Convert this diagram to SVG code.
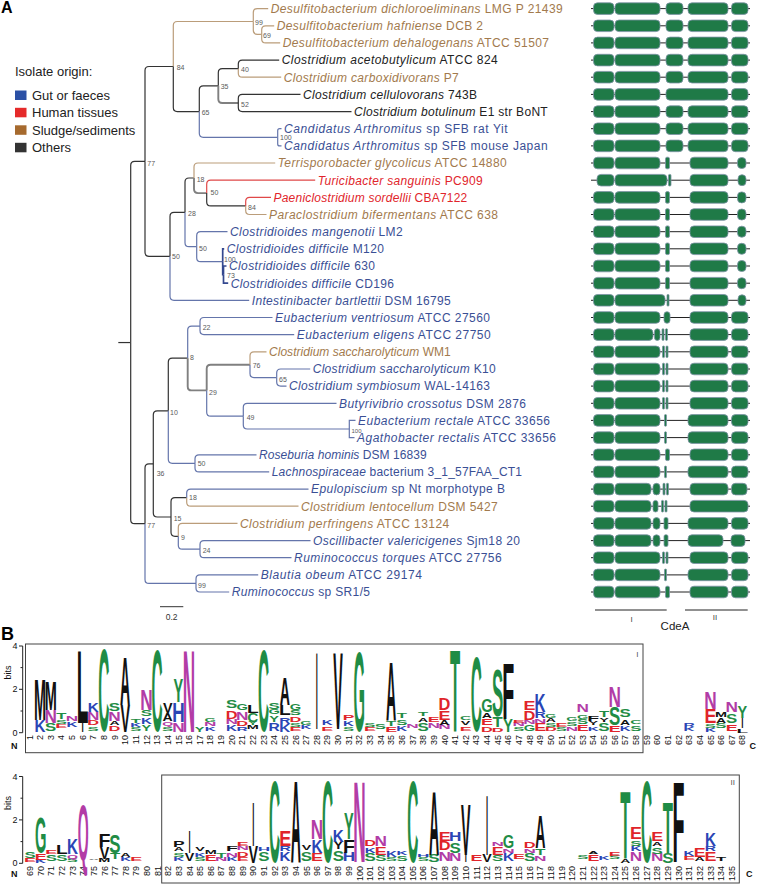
<svg xmlns="http://www.w3.org/2000/svg" xmlns:xlink="http://www.w3.org/1999/xlink" width="758" height="884" viewBox="0 0 758 884">
<style>
.tx{font-family:"Liberation Sans",Arial,sans-serif;font-size:12px}
.i{font-style:italic}
.cbl{fill:#3a4f95}.cbr{fill:#a27a4d}.crd{fill:#e1252b}.cbk{fill:#222}
.bs{font-family:"Liberation Sans",Arial,sans-serif;font-size:7px;fill:#5a5a5a}
.lg{font-family:"Liberation Sans",Arial,sans-serif;font-size:13px;fill:#222}
.hd{font-family:"Liberation Sans",Arial,sans-serif;font-size:16px;font-weight:bold;fill:#000}
#conn path{fill:none;stroke-width:1.2}
.k{stroke:#333}.b{stroke:#6475ab}.w{stroke:#bb9d7a}.r{stroke:#e04848}.g{stroke:#808080;stroke-width:1.9 !important}.db{stroke:#34488f;stroke-width:1.7 !important}
.d{fill:#1f7a47;stroke:#7d93a6;stroke-width:0.8}
.bb{stroke:#222;stroke-width:1}
.L{font-family:"Liberation Sans",Arial,sans-serif;font-weight:bold;font-size:10px;text-anchor:middle}
.G{fill:#1f8c45}.P{fill:#b23ca6}.B{fill:#2a45b5}.R{fill:#e0242a}.K{fill:#111}
.num{font-family:"Liberation Sans",Arial,sans-serif;font-size:9px;fill:#111;text-anchor:end}
.ax{font-family:"Liberation Sans",Arial,sans-serif;font-size:9px;fill:#111}
.axl{stroke:#222;stroke-width:1;fill:none}
</style>
<defs>
<g id="dP"><line class="bb" x1="591" y1="0" x2="750" y2="0"/><rect class="d" x="593.5" y="-5.8" width="20.5" height="11.6" rx="4"/><rect class="d" x="615" y="-5.8" width="45" height="11.6" rx="4"/><rect class="d" x="666" y="-5.8" width="17" height="11.6" rx="4"/><rect class="d" x="688" y="-5.8" width="40" height="11.6" rx="4"/><rect class="d" x="731.5" y="-5.8" width="16.5" height="11.6" rx="4"/></g>
<g id="d5"><line class="bb" x1="591" y1="0" x2="750" y2="0"/><rect class="d" x="593.5" y="-5.8" width="20.5" height="11.6" rx="4"/><rect class="d" x="615" y="-5.8" width="45" height="11.6" rx="4"/><rect class="d" x="666" y="-5.8" width="62" height="11.6" rx="4"/><rect class="d" x="731.5" y="-5.8" width="16.5" height="11.6" rx="4"/></g>
<g id="dQ"><line class="bb" x1="591" y1="0" x2="750" y2="0"/><rect class="d" x="593.5" y="-5.8" width="20.5" height="11.6" rx="4"/><rect class="d" x="615" y="-5.8" width="45" height="11.6" rx="4"/><rect class="d" x="665.5" y="-5.8" width="4" height="11.6" rx="1.5"/><rect class="d" x="690" y="-5.8" width="38" height="11.6" rx="4"/><rect class="d" x="737.5" y="-5.5" width="8.5" height="11" rx="4"/></g>
<g id="d10"><line class="bb" x1="591" y1="0" x2="750" y2="0"/><rect class="d" x="597" y="-5.8" width="17" height="11.6" rx="4"/><rect class="d" x="615" y="-5.8" width="52" height="11.6" rx="4"/><rect class="d" x="668.5" y="-5.8" width="2.5" height="11.6" rx="1"/><rect class="d" x="690" y="-5.8" width="38" height="11.6" rx="4"/><rect class="d" x="738" y="-5.5" width="8" height="11" rx="4"/></g>
<g id="d17"><line class="bb" x1="591" y1="0" x2="750" y2="0"/><rect class="d" x="593.5" y="-5.8" width="20.5" height="11.6" rx="4"/><rect class="d" x="615" y="-5.8" width="50" height="11.6" rx="4"/><rect class="d" x="667" y="-5.8" width="2" height="11.6" rx="0.8"/><rect class="d" x="690" y="-5.8" width="38" height="11.6" rx="4"/><rect class="d" x="738" y="-5.5" width="8" height="11" rx="4"/></g>
<g id="d18"><line class="bb" x1="591" y1="0" x2="750" y2="0"/><rect class="d" x="593.5" y="-5.8" width="20.5" height="11.6" rx="4"/><rect class="d" x="615" y="-5.8" width="45" height="11.6" rx="4"/><rect class="d" x="664" y="-5.8" width="6" height="11.6" rx="3"/><rect class="d" x="690" y="-5.8" width="38" height="11.6" rx="4"/><rect class="d" x="731.5" y="-5.8" width="16.5" height="11.6" rx="4"/></g>
<g id="d19"><line class="bb" x1="591" y1="0" x2="750" y2="0"/><rect class="d" x="593.5" y="-5.8" width="20.5" height="11.6" rx="4"/><rect class="d" x="615" y="-5.8" width="38" height="11.6" rx="4"/><rect class="d" x="654.5" y="-5.8" width="5.5" height="11.6" rx="2.7"/><rect class="d" x="662" y="-5.8" width="2" height="11.6" rx="0.8"/><rect class="d" x="665.5" y="-5.8" width="2" height="11.6" rx="0.8"/><rect class="d" x="690" y="-5.8" width="38" height="11.6" rx="4"/><rect class="d" x="731.5" y="-5.8" width="16.5" height="11.6" rx="4"/></g>
<g id="dT"><line class="bb" x1="591" y1="0" x2="750" y2="0"/><rect class="d" x="593.5" y="-5.8" width="20.5" height="11.6" rx="4"/><rect class="d" x="615" y="-5.8" width="45" height="11.6" rx="4"/><rect class="d" x="662.5" y="-5.8" width="2" height="11.6" rx="0.8"/><rect class="d" x="666" y="-5.8" width="2" height="11.6" rx="0.8"/><rect class="d" x="690" y="-5.8" width="38" height="11.6" rx="4"/><rect class="d" x="731.5" y="-5.8" width="16.5" height="11.6" rx="4"/></g>
<g id="dU"><line class="bb" x1="591" y1="0" x2="750" y2="0"/><rect class="d" x="593.5" y="-5.8" width="20.5" height="11.6" rx="4"/><rect class="d" x="615" y="-5.8" width="45" height="11.6" rx="4"/><rect class="d" x="664.5" y="-5.8" width="2" height="11.6" rx="0.8"/><rect class="d" x="688" y="-5.8" width="40" height="11.6" rx="4"/><rect class="d" x="731.5" y="-5.8" width="16.5" height="11.6" rx="4"/></g>
<g id="dV"><line class="bb" x1="591" y1="0" x2="750" y2="0"/><rect class="d" x="593.5" y="-5.8" width="20.5" height="11.6" rx="4"/><rect class="d" x="615" y="-5.8" width="45" height="11.6" rx="4"/><rect class="d" x="665.5" y="-5.8" width="4" height="11.6" rx="1.5"/><rect class="d" x="690" y="-5.8" width="38" height="11.6" rx="4"/><rect class="d" x="731.5" y="-5.8" width="16.5" height="11.6" rx="4"/></g>
<g id="d28"><line class="bb" x1="591" y1="0" x2="750" y2="0"/><rect class="d" x="593.5" y="-5.8" width="20.5" height="11.6" rx="4"/><rect class="d" x="615" y="-5.8" width="36" height="11.6" rx="4"/><rect class="d" x="653" y="-5.8" width="7" height="11.6" rx="3.5"/><rect class="d" x="663" y="-5.8" width="2" height="11.6" rx="0.8"/><rect class="d" x="666.5" y="-5.8" width="2" height="11.6" rx="0.8"/><rect class="d" x="690" y="-5.8" width="38" height="11.6" rx="4"/><rect class="d" x="731.5" y="-5.8" width="15.5" height="11.6" rx="4"/></g>
<g id="d29"><line class="bb" x1="591" y1="0" x2="750" y2="0"/><rect class="d" x="593.5" y="-5.8" width="20.5" height="11.6" rx="4"/><rect class="d" x="615" y="-5.8" width="36" height="11.6" rx="4"/><rect class="d" x="653" y="-5.8" width="5" height="11.6" rx="2.5"/><rect class="d" x="661.5" y="-5.8" width="2" height="11.6" rx="0.8"/><rect class="d" x="665" y="-5.8" width="2" height="11.6" rx="0.8"/><rect class="d" x="690" y="-5.8" width="58" height="11.6" rx="4"/></g>
<g id="d30"><line class="bb" x1="591" y1="0" x2="750" y2="0"/><rect class="d" x="593.5" y="-5.8" width="20.5" height="11.6" rx="4"/><rect class="d" x="615" y="-5.8" width="36" height="11.6" rx="4"/><rect class="d" x="653" y="-5.8" width="7" height="11.6" rx="3.5"/><rect class="d" x="664" y="-5.8" width="4" height="11.6" rx="1.5"/><rect class="d" x="688" y="-5.8" width="40" height="11.6" rx="4"/><rect class="d" x="731.5" y="-5.8" width="16.5" height="11.6" rx="4"/></g>
<g id="d31"><line class="bb" x1="591" y1="0" x2="750" y2="0"/><rect class="d" x="593.5" y="-5.8" width="20.5" height="11.6" rx="4"/><rect class="d" x="615" y="-5.8" width="36" height="11.6" rx="4"/><rect class="d" x="653" y="-5.8" width="7" height="11.6" rx="3.5"/><rect class="d" x="664" y="-5.8" width="4" height="11.6" rx="1.5"/><rect class="d" x="688" y="-5.8" width="35" height="11.6" rx="4"/><rect class="d" x="731" y="-5.8" width="14" height="11.6" rx="4"/></g>
</defs>
<rect width="758" height="884" fill="#fff"/>
<text class="hd" x="1" y="12.5">A</text>
<text class="hd" x="1" y="640" style="font-size:18px">B</text>

<g id="legend">
<text class="lg" x="15" y="76.4">Isolate origin:</text>
<rect x="15" y="90.5" width="11.5" height="9.5" fill="#2b50a5"/><text class="lg" x="32" y="99.8">Gut or faeces</text>
<rect x="15" y="107.8" width="11.5" height="9.5" fill="#e52a2a"/><text class="lg" x="32" y="117.1">Human tissues</text>
<rect x="15" y="125.3" width="11.5" height="9.5" fill="#a66a2e"/><text class="lg" x="32" y="134.6">Sludge/sediments</text>
<rect x="15" y="142.8" width="11.5" height="9.5" fill="#333"/><text class="lg" x="32" y="152.1">Others</text>
</g>

<g id="conn">
<path class="k" d="M118.3 342.55H130.7"/>
<path class="k" d="M130.7 342.55V165.4Q130.7 161.4 134.7 161.4H145"/>
<path class="k" d="M130.7 342.55V519.7Q130.7 523.7 134.7 523.7H145"/>
<path class="k" d="M145 161.4V70.5Q145 66.5 149 66.5H173.3"/>
<path class="k" d="M145 161.4V252.3Q145 256.3 149 256.3H170"/>
<path class="w" d="M173.3 66.5V25.5Q173.3 21.5 177.3 21.5H253.3"/>
<path class="k" d="M173.3 66.5V107.55Q173.3 111.55 177.3 111.55H199.3"/>
<path class="w" d="M253.3 21.5V12.6Q253.3 8.6 257.3 8.6H268.2"/>
<path class="w" d="M253.3 21.5V30.35Q253.3 34.35 257.3 34.35H261.7"/>
<path class="w" d="M261.7 34.35V29.8Q261.7 25.8 265.7 25.8H274.2"/>
<path class="w" d="M261.7 34.35V38.9Q261.7 42.9 265.7 42.9H280.2"/>
<path class="k" d="M199.3 111.55V89.8Q199.3 85.8 203.3 85.8H218.3"/>
<path class="b" d="M199.3 111.55V133.3Q199.3 137.3 203.3 137.3H277.7"/>
<path class="k" d="M218.3 85.8V72.65Q218.3 68.65 222.3 68.65H238.3"/>
<path class="g" d="M218.3 85.8V99Q218.3 103 222.3 103H238.3"/>
<path class="k" d="M238.3 68.65V64.1Q238.3 60.1 242.3 60.1H279.2"/>
<path class="w" d="M238.3 68.65V73.2Q238.3 77.2 242.3 77.2H281.2"/>
<path class="k" d="M238.3 103V98.4Q238.3 94.4 242.3 94.4H300.5"/>
<path class="k" d="M238.3 103V107.6Q238.3 111.6 242.3 111.6H351.5"/>
<path class="b" d="M277.7 137.3V130.7Q277.7 128.7 279.7 128.7H281.5"/>
<path class="b" d="M277.7 137.3V143.9Q277.7 145.9 279.7 145.9H281.5"/>
<path class="k" d="M170 256.3V216.4Q170 212.4 174 212.4H185"/>
<path class="b" d="M170 256.3V296.3Q170 300.3 174 300.3H249.2"/>
<path class="k" d="M185 212.4V182Q185 178 189 178H194"/>
<path class="b" d="M185 212.4V242.7Q185 246.7 189 246.7H196.7"/>
<path class="w" d="M194 178V167Q194 163 198 163H275.2"/>
<path class="g" d="M194 178V189.1Q194 193.1 198 193.1H206.7"/>
<path class="r" d="M206.7 193.1V184.2Q206.7 180.2 210.7 180.2H315.2"/>
<path class="k" d="M206.7 193.1V201.95Q206.7 205.95 210.7 205.95H245.7"/>
<path class="r" d="M245.7 205.95V201.4Q245.7 197.4 249.7 197.4H271"/>
<path class="w" d="M245.7 205.95V210.5Q245.7 214.5 249.7 214.5H266.5"/>
<path class="b" d="M196.7 246.7V235.7Q196.7 231.7 200.7 231.7H227.5"/>
<path class="b" d="M196.7 246.7V257.7Q196.7 261.7 200.7 261.7H222.7"/>
<path class="db" d="M222.7 261.7V248.8H224.2"/>
<path class="db" d="M222.7 261.7V274.6H223.5"/>
<path class="db" d="M223.5 274.6V266H226.5"/>
<path class="db" d="M223.5 274.6V283.2H228.2"/>
<path class="k" d="M145 523.7V467.9Q145 463.9 149 463.9H153.3"/>
<path class="b" d="M145 523.7V579.45Q145 583.45 149 583.45H196"/>
<path class="k" d="M153.3 463.9V414.8Q153.3 410.8 157.3 410.8H168.3"/>
<path class="k" d="M153.3 463.9V513Q153.3 517 157.3 517H171"/>
<path class="k" d="M168.3 410.8V362.2Q168.3 358.2 172.3 358.2H187.7"/>
<path class="b" d="M168.3 410.8V459.35Q168.3 463.35 172.3 463.35H195"/>
<path class="b" d="M187.7 358.2V330.05Q187.7 326.05 191.7 326.05H200"/>
<path class="g" d="M187.7 358.2V386.4Q187.7 390.4 191.7 390.4H206.7"/>
<path class="b" d="M200 326.05V321.5Q200 317.5 204 317.5H272.5"/>
<path class="b" d="M200 326.05V330.6Q200 334.6 204 334.6H294.2"/>
<path class="g" d="M206.7 390.4V368.7Q206.7 364.7 210.7 364.7H250"/>
<path class="b" d="M206.7 390.4V412.15Q206.7 416.15 210.7 416.15H243.3"/>
<path class="w" d="M250 364.7V355.8Q250 351.8 254 351.8H266.5"/>
<path class="b" d="M250 364.7V373.55Q250 377.55 254 377.55H276.7"/>
<path class="b" d="M276.7 377.55V373Q276.7 369 280.7 369H310.2"/>
<path class="b" d="M276.7 377.55V382.1Q276.7 386.1 280.7 386.1H286.5"/>
<path class="b" d="M243.3 416.15V407.3Q243.3 403.3 247.3 403.3H336.5"/>
<path class="b" d="M243.3 416.15V425Q243.3 429 247.3 429H349.3"/>
<path class="b" d="M349.3 429V420.4H355.5"/>
<path class="b" d="M349.3 429V437.6H354.5"/>
<path class="b" d="M195 463.35V458.8Q195 454.8 199 454.8H256.5"/>
<path class="b" d="M195 463.35V467.9Q195 471.9 199 471.9H269.2"/>
<path class="k" d="M171 517V501.65Q171 497.65 175 497.65H186.7"/>
<path class="k" d="M171 517V532.3Q171 536.3 175 536.3H178.3"/>
<path class="b" d="M186.7 497.65V493.1Q186.7 489.1 190.7 489.1H308.5"/>
<path class="w" d="M186.7 497.65V502.2Q186.7 506.2 190.7 506.2H298.5"/>
<path class="w" d="M178.3 536.3V527.4Q178.3 523.4 182.3 523.4H237.5"/>
<path class="b" d="M178.3 536.3V545.15Q178.3 549.15 182.3 549.15H200"/>
<path class="b" d="M200 549.15V544.6Q200 540.6 204 540.6H310.5"/>
<path class="b" d="M200 549.15V553.7Q200 557.7 204 557.7H291.5"/>
<path class="b" d="M196 583.45V578.9Q196 574.9 200 574.9H258.2"/>
<path class="b" d="M196 583.45V588Q196 592 200 592H229.2"/>
</g>

<g id="bootstrap">
<text class="bs" x="255" y="24.8">99</text><text class="bs" x="263" y="37.5">69</text><text class="bs" x="176.7" y="70.2">84</text>
<text class="bs" x="241" y="71.8">40</text><text class="bs" x="220.7" y="88.5">35</text><text class="bs" x="241" y="106.5">52</text>
<text class="bs" x="201.7" y="115.2">65</text><text class="bs" x="280" y="140.2">100</text><text class="bs" x="147.3" y="165.5">77</text>
<text class="bs" x="196.7" y="181.8">18</text><text class="bs" x="210.5" y="195">50</text><text class="bs" x="248" y="209.5">84</text>
<text class="bs" x="188" y="215.5">28</text><text class="bs" x="199" y="250.5">50</text><text class="bs" x="224" y="261.5">100</text>
<text class="bs" x="227" y="277.5">73</text><text class="bs" x="172" y="259.2">50</text>
<text class="bs" x="202.7" y="329.8">22</text><text class="bs" x="190" y="360.2">8</text><text class="bs" x="252.7" y="368.2">76</text>
<text class="bs" x="279" y="381.5">65</text><text class="bs" x="209" y="394.8">29</text><text class="bs" x="170" y="415.2">10</text>
<text class="bs" x="246.7" y="419.8">49</text><text class="bs" x="351.5" y="432.5" style="font-size:6px">100</text><text class="bs" x="197.7" y="465.8">50</text>
<text class="bs" x="156.7" y="475.8">36</text><text class="bs" x="189" y="500.2">18</text><text class="bs" x="173.7" y="520.8">15</text>
<text class="bs" x="147.3" y="527.5">77</text><text class="bs" x="181" y="539.8">9</text><text class="bs" x="202.7" y="553.2">24</text>
<text class="bs" x="198" y="587.5">99</text>
</g>

<g id="taxa">
<text class="tx cbr" x="270.7" y="12.9" textLength="292" lengthAdjust="spacing"><tspan class="i">Desulfitobacterium dichloroeliminans</tspan> LMG P 21439</text>
<text class="tx cbr" x="276.7" y="30.1" textLength="206.3" lengthAdjust="spacing"><tspan class="i">Desulfitobacterium hafniense</tspan> DCB 2</text>
<text class="tx cbr" x="282.7" y="47.2" textLength="266.3" lengthAdjust="spacing"><tspan class="i">Desulfitobacterium dehalogenans</tspan> ATCC 51507</text>
<text class="tx cbk" x="281.7" y="64.4" textLength="216" lengthAdjust="spacing"><tspan class="i">Clostridium acetobutylicum</tspan> ATCC 824</text>
<text class="tx cbr" x="283.7" y="81.5" textLength="175" lengthAdjust="spacing"><tspan class="i">Clostridium carboxidivorans</tspan> P7</text>
<text class="tx cbk" x="303" y="98.7" textLength="174" lengthAdjust="spacing"><tspan class="i">Clostridium cellulovorans</tspan> 743B</text>
<text class="tx cbk" x="354" y="115.9" textLength="193.7" lengthAdjust="spacing"><tspan class="i">Clostridium botulinum</tspan> E1 str BoNT</text>
<text class="tx cbl" x="284" y="133" textLength="223.7" lengthAdjust="spacing"><tspan class="i">Candidatus Arthromitus</tspan> sp SFB rat Yit</text>
<text class="tx cbl" x="284" y="150.2" textLength="263.7" lengthAdjust="spacing"><tspan class="i">Candidatus Arthromitus</tspan> sp SFB mouse Japan</text>
<text class="tx cbr" x="277.7" y="167.3" textLength="229" lengthAdjust="spacing"><tspan class="i">Terrisporobacter glycolicus</tspan> ATCC 14880</text>
<text class="tx crd" x="317.7" y="184.5" textLength="165" lengthAdjust="spacing"><tspan class="i">Turicibacter sanguinis</tspan> PC909</text>
<text class="tx crd" x="273.5" y="201.7" textLength="193.8" lengthAdjust="spacing"><tspan class="i">Paeniclostridium sordellii</tspan> CBA7122</text>
<text class="tx cbr" x="269" y="218.8" textLength="229" lengthAdjust="spacing"><tspan class="i">Paraclostridium bifermentans</tspan> ATCC 638</text>
<text class="tx cbl" x="230" y="236" textLength="172.7" lengthAdjust="spacing"><tspan class="i">Clostridioides mangenotii</tspan> LM2</text>
<text class="tx cbl" x="226.7" y="253.1" textLength="157.3" lengthAdjust="spacing"><tspan class="i">Clostridioides difficile</tspan> M120</text>
<text class="tx cbl" x="229" y="270.3" textLength="146" lengthAdjust="spacing"><tspan class="i">Clostridioides difficile</tspan> 630</text>
<text class="tx cbl" x="230.7" y="287.5" textLength="163.3" lengthAdjust="spacing"><tspan class="i">Clostridioides difficile</tspan> CD196</text>
<text class="tx cbl" x="251.7" y="304.6" textLength="199" lengthAdjust="spacing"><tspan class="i">Intestinibacter bartlettii</tspan> DSM 16795</text>
<text class="tx cbl" x="275" y="321.8" textLength="215" lengthAdjust="spacing"><tspan class="i">Eubacterium ventriosum</tspan> ATCC 27560</text>
<text class="tx cbl" x="296.7" y="338.9" textLength="194" lengthAdjust="spacing"><tspan class="i">Eubacterium eligens</tspan> ATCC 27750</text>
<text class="tx cbr" x="269" y="356.1" textLength="181.7" lengthAdjust="spacing"><tspan class="i">Clostridium saccharolyticum</tspan> WM1</text>
<text class="tx cbl" x="312.7" y="373.3" textLength="183" lengthAdjust="spacing"><tspan class="i">Clostridium saccharolyticum</tspan> K10</text>
<text class="tx cbl" x="289" y="390.4" textLength="201" lengthAdjust="spacing"><tspan class="i">Clostridium symbiosum</tspan> WAL-14163</text>
<text class="tx cbl" x="339" y="407.6" textLength="187" lengthAdjust="spacing"><tspan class="i">Butyrivibrio crossotus</tspan> DSM 2876</text>
<text class="tx cbl" x="358" y="424.7" textLength="192" lengthAdjust="spacing"><tspan class="i">Eubacterium rectale</tspan> ATCC 33656</text>
<text class="tx cbl" x="357" y="441.9" textLength="199" lengthAdjust="spacing"><tspan class="i">Agathobacter rectalis</tspan> ATCC 33656</text>
<text class="tx cbl" x="259" y="459.1" textLength="167.7" lengthAdjust="spacing"><tspan class="i">Roseburia hominis</tspan> DSM 16839</text>
<text class="tx cbl" x="271.7" y="476.2" textLength="250.3" lengthAdjust="spacing"><tspan class="i">Lachnospiraceae</tspan> bacterium 3_1_57FAA_CT1</text>
<text class="tx cbl" x="311" y="493.4" textLength="194" lengthAdjust="spacing"><tspan class="i">Epulopiscium</tspan> sp Nt morphotype B</text>
<text class="tx cbr" x="301" y="510.5" textLength="196.7" lengthAdjust="spacing"><tspan class="i">Clostridium lentocellum</tspan> DSM 5427</text>
<text class="tx cbr" x="240" y="527.7" textLength="209.3" lengthAdjust="spacing"><tspan class="i">Clostridium perfringens</tspan> ATCC 13124</text>
<text class="tx cbl" x="313" y="544.9" textLength="207" lengthAdjust="spacing"><tspan class="i">Oscillibacter valericigenes</tspan> Sjm18 20</text>
<text class="tx cbl" x="294" y="562" textLength="207.7" lengthAdjust="spacing"><tspan class="i">Ruminococcus torques</tspan> ATCC 27756</text>
<text class="tx cbl" x="260.7" y="579.2" textLength="161.3" lengthAdjust="spacing"><tspan class="i">Blautia obeum</tspan> ATCC 29174</text>
<text class="tx cbl" x="231.7" y="596.3" textLength="138.3" lengthAdjust="spacing"><tspan class="i">Ruminococcus</tspan> sp SR1/5</text>
</g>

<g id="scalebar">
<line x1="160" y1="606.7" x2="183.3" y2="606.7" stroke="#333" stroke-width="1"/>
<text x="171.7" y="620" text-anchor="middle" style="font-family:'Liberation Sans',Arial,sans-serif;font-size:8.5px;fill:#333">0.2</text>
</g>

<g id="domains">
<use xlink:href="#dP" y="8.6"/><use xlink:href="#dP" y="25.8"/><use xlink:href="#dP" y="42.9"/><use xlink:href="#dP" y="60.1"/>
<use xlink:href="#dP" y="77.2"/><use xlink:href="#d5" y="94.4"/><use xlink:href="#dP" y="111.6"/><use xlink:href="#dP" y="128.7"/>
<use xlink:href="#dP" y="145.9"/><use xlink:href="#dQ" y="163"/><use xlink:href="#d10" y="180.2"/><use xlink:href="#dQ" y="197.4"/>
<use xlink:href="#dQ" y="214.5"/><use xlink:href="#dQ" y="231.7"/><use xlink:href="#dQ" y="248.8"/><use xlink:href="#dQ" y="266"/>
<use xlink:href="#dQ" y="283.2"/><use xlink:href="#d17" y="300.3"/><use xlink:href="#d18" y="317.5"/><use xlink:href="#d19" y="334.6"/>
<use xlink:href="#dT" y="351.8"/><use xlink:href="#dT" y="369"/><use xlink:href="#dT" y="386.1"/><use xlink:href="#dT" y="403.3"/>
<use xlink:href="#dU" y="420.4"/><use xlink:href="#dU" y="437.6"/><use xlink:href="#dV" y="454.8"/><use xlink:href="#dU" y="471.9"/>
<use xlink:href="#d28" y="489.1"/><use xlink:href="#d29" y="506.2"/><use xlink:href="#d30" y="523.4"/><use xlink:href="#d31" y="540.6"/>
<use xlink:href="#dT" y="557.7"/><use xlink:href="#dU" y="574.9"/><use xlink:href="#dV" y="592"/>
<line x1="595" y1="610" x2="666.7" y2="610" stroke="#222" stroke-width="1"/>
<line x1="685" y1="610" x2="747.7" y2="610" stroke="#222" stroke-width="1"/>
<text x="631.7" y="621.5" text-anchor="middle" style="font-family:'Liberation Sans',Arial,sans-serif;font-size:8px;fill:#444">I</text>
<text x="715" y="620" text-anchor="middle" style="font-family:'Liberation Sans',Arial,sans-serif;font-size:8px;fill:#444">II</text>
<text x="675" y="629.5" text-anchor="middle" style="font-family:'Liberation Sans',Arial,sans-serif;font-size:11.5px;fill:#222">CdeA</text>
</g>

<g id="logo1">
<rect x="25.5" y="644" width="617.5" height="108.7" fill="none" stroke="#444" stroke-width="1"/>
<path class="axl" d="M22.7 646V732.7M19 732.7H22.7M20.5 711H22.7M19 689.3H22.7M20.5 667.6H22.7M19 646H22.7"/>
<text class="ax" x="17.5" y="735.8" text-anchor="end">0</text>
<text class="ax" x="17.5" y="692.4" text-anchor="end">2</text>
<text class="ax" x="17.5" y="649.1" text-anchor="end">4</text>
<text class="ax" transform="translate(10.5 672.5) rotate(-90)" text-anchor="middle">bits</text>
<text class="ax" x="11" y="748.5" style="font-weight:bold">N</text>
<text class="ax" x="749.5" y="748.5" style="font-weight:bold">C</text>
<text x="637.3" y="656.5" text-anchor="middle" style="font-family:'Liberation Sans',Arial,sans-serif;font-size:8px;fill:#555">I</text>
<text class="num" transform="rotate(-90)"><tspan x="-735" y="32.5">1</tspan><tspan x="-735" y="43.1">2</tspan><tspan x="-735" y="53.8">3</tspan><tspan x="-735" y="64.4">4</tspan><tspan x="-735" y="75.1">5</tspan><tspan x="-735" y="85.7">6</tspan><tspan x="-735" y="96.3">7</tspan><tspan x="-735" y="107">8</tspan><tspan x="-735" y="117.6">9</tspan><tspan x="-735" y="128.3">10</tspan><tspan x="-735" y="138.9">11</tspan><tspan x="-735" y="149.5">12</tspan><tspan x="-735" y="160.2">13</tspan><tspan x="-735" y="170.8">14</tspan><tspan x="-735" y="181.5">15</tspan><tspan x="-735" y="192.1">16</tspan><tspan x="-735" y="202.7">17</tspan><tspan x="-735" y="213.4">18</tspan><tspan x="-735" y="224">19</tspan><tspan x="-735" y="234.7">20</tspan><tspan x="-735" y="245.3">21</tspan><tspan x="-735" y="255.9">22</tspan><tspan x="-735" y="266.6">23</tspan><tspan x="-735" y="277.2">24</tspan><tspan x="-735" y="287.9">25</tspan><tspan x="-735" y="298.5">26</tspan><tspan x="-735" y="309.1">27</tspan><tspan x="-735" y="319.8">28</tspan><tspan x="-735" y="330.4">29</tspan><tspan x="-735" y="341.1">30</tspan><tspan x="-735" y="351.7">31</tspan><tspan x="-735" y="362.3">32</tspan><tspan x="-735" y="373">33</tspan><tspan x="-735" y="383.6">34</tspan><tspan x="-735" y="394.3">35</tspan><tspan x="-735" y="404.9">36</tspan><tspan x="-735" y="415.5">37</tspan><tspan x="-735" y="426.2">38</tspan><tspan x="-735" y="436.8">39</tspan><tspan x="-735" y="447.5">40</tspan><tspan x="-735" y="458.1">41</tspan><tspan x="-735" y="468.7">42</tspan><tspan x="-735" y="479.4">43</tspan><tspan x="-735" y="490">44</tspan><tspan x="-735" y="500.7">45</tspan><tspan x="-735" y="511.3">46</tspan><tspan x="-735" y="521.9">47</tspan><tspan x="-735" y="532.6">48</tspan><tspan x="-735" y="543.2">49</tspan><tspan x="-735" y="553.9">50</tspan><tspan x="-735" y="564.5">51</tspan><tspan x="-735" y="575.1">52</tspan><tspan x="-735" y="585.8">53</tspan><tspan x="-735" y="596.4">54</tspan><tspan x="-735" y="607.1">55</tspan><tspan x="-735" y="617.7">56</tspan><tspan x="-735" y="628.3">57</tspan><tspan x="-735" y="639">58</tspan><tspan x="-735" y="649.6">59</tspan><tspan x="-735" y="660.3">60</tspan><tspan x="-735" y="670.9">61</tspan><tspan x="-735" y="681.5">62</tspan><tspan x="-735" y="692.2">63</tspan><tspan x="-735" y="702.8">64</tspan><tspan x="-735" y="713.5">65</tspan><tspan x="-735" y="724.1">66</tspan><tspan x="-735" y="734.7">67</tspan><tspan x="-735" y="745.4">68</tspan></text>
<text class="L B" transform="translate(40 731.6) scale(1.52 1.667)">K</text><text class="L K" transform="translate(40 719.7) scale(1.45 5.759)">M</text>
<text class="L G" transform="translate(50.7 730.5) scale(1.69 1.061)">S</text><text class="L P" transform="translate(50.7 722.9) scale(1.72 1.819)">N</text><text class="L K" transform="translate(50.7 709.9) scale(1.45 4.092)">M</text>
<text class="L R" transform="translate(61.3 728.4) scale(1.79 0.546)">E</text><text class="L G" transform="translate(61.3 724) scale(1.69 0.606)">S</text><text class="L G" transform="translate(61.3 718.6) scale(1.67 0.909)">T</text>
<text class="L B" transform="translate(72 727.3) scale(1.52 0.758)">K</text><text class="L P" transform="translate(72 720.8) scale(1.72 0.758)">N</text>
<text class="L K" transform="translate(82.6 731.6) scale(0.8 1.212)">I</text><text class="L K" transform="translate(82.6 722.9) scale(1.92 10.305)">L</text>
<text class="L G" transform="translate(93.2 730.5) scale(1.69 0.606)">S</text><text class="L R" transform="translate(93.2 725.1) scale(1.64 0.758)">D</text><text class="L P" transform="translate(93.2 719.7) scale(1.72 1.061)">N</text><text class="L B" transform="translate(93.2 712.1) scale(1.52 1.212)">K</text>
<text class="L G" transform="translate(103.9 730.6) scale(1.54 11.7)">C</text>
<text class="L R" transform="translate(114.5 730.5) scale(1.64 0.758)">D</text><text class="L K" transform="translate(114.5 725.1) scale(1.41 0.606)">A</text><text class="L P" transform="translate(114.5 720.8) scale(1.72 1.364)">N</text><text class="L G" transform="translate(114.5 711) scale(1.69 1.061)">S</text>
<text class="L K" transform="translate(125.2 731.6) scale(1.43 3.789)">V</text><text class="L K" transform="translate(125.2 704.5) scale(1.41 6.82)">A</text>
<text class="L G" transform="translate(135.8 730.5) scale(1.69 0.455)">S</text><text class="L B" transform="translate(135.8 727.3) scale(1.52 0.455)">K</text><text class="L G" transform="translate(135.8 722.9) scale(1.67 0.606)">T</text>
<text class="L G" transform="translate(146.4 730.5) scale(1.45 0.909)">Y</text><text class="L B" transform="translate(146.4 724) scale(1.52 0.909)">K</text><text class="L G" transform="translate(146.4 716.4) scale(1.69 0.909)">S</text><text class="L P" transform="translate(146.4 709.9) scale(1.72 2.879)">N</text>
<text class="L G" transform="translate(157.1 730.6) scale(1.54 11.55)">C</text>
<text class="L G" transform="translate(167.7 730.5) scale(1.69 0.606)">S</text><text class="L P" transform="translate(167.7 726.2) scale(1.41 0.606)">Q</text><text class="L K" transform="translate(167.7 720.8) scale(1.41 1.061)">A</text><text class="L K" transform="translate(167.7 713.2) scale(1.43 1.516)">V</text>
<text class="L P" transform="translate(178.4 731.6) scale(1.72 1.212)">N</text><text class="L B" transform="translate(178.4 721.85) scale(1.72 2.728)">H</text><text class="L G" transform="translate(178.4 702.3) scale(1.45 3.334)">Y</text>
<text class="L P" transform="translate(189 731.6) scale(1.72 11.669)">N</text>
<text class="L G" transform="translate(199.6 731.6) scale(1.45 0.758)">Y</text>
<text class="L B" transform="translate(210.3 730.5) scale(1.52 0.606)">K</text><text class="L P" transform="translate(210.3 726.2) scale(1.72 0.606)">N</text><text class="L G" transform="translate(210.3 721.85) scale(1.47 0.606)">G</text>
<text class="L B" transform="translate(231.6 730.5) scale(1.52 0.909)">K</text><text class="L P" transform="translate(231.6 724) scale(1.72 0.758)">N</text><text class="L R" transform="translate(231.6 718.6) scale(1.64 1.061)">D</text><text class="L G" transform="translate(231.6 708.4) scale(1.69 1.061)">S</text>
<text class="L B" transform="translate(242.2 730.5) scale(1.56 0.606)">R</text><text class="L R" transform="translate(242.2 726.2) scale(1.64 0.758)">D</text><text class="L P" transform="translate(242.2 719.7) scale(1.72 1.061)">N</text><text class="L G" transform="translate(242.2 709.9) scale(1.47 0.97)">G</text>
<text class="L K" transform="translate(252.8 729.4) scale(1.45 0.606)">M</text><text class="L G" transform="translate(252.8 725.1) scale(1.45 0.455)">Y</text><text class="L G" transform="translate(252.8 721.85) scale(1.54 1.212)">C</text><text class="L K" transform="translate(252.8 713.2) scale(1.92 1.061)">L</text>
<text class="L G" transform="translate(263.5 730.6) scale(1.54 11.55)">C</text>
<text class="L B" transform="translate(274.1 730.5) scale(1.56 1.061)">R</text><text class="L G" transform="translate(274.1 721.85) scale(1.45 0.909)">Y</text><text class="L G" transform="translate(274.1 714.3) scale(1.47 0.758)">G</text><text class="L G" transform="translate(274.1 708.8) scale(1.69 0.818)">S</text>
<text class="L B" transform="translate(284.8 731.6) scale(1.52 1.061)">K</text><text class="L B" transform="translate(284.8 724) scale(1.56 0.909)">R</text><text class="L K" transform="translate(284.8 715.3) scale(1.92 1.516)">L</text><text class="L K" transform="translate(284.8 704.5) scale(1.41 3.789)">A</text>
<text class="L R" transform="translate(295.4 730.5) scale(1.79 0.455)">E</text><text class="L G" transform="translate(295.4 727.3) scale(1.69 0.606)">S</text><text class="L R" transform="translate(295.4 721.85) scale(1.64 0.758)">D</text><text class="L G" transform="translate(295.4 715.3) scale(1.69 0.758)">S</text><text class="L G" transform="translate(295.4 709.9) scale(1.47 0.97)">G</text>
<text class="L B" transform="translate(306 729.4) scale(1.52 0.606)">K</text><text class="L G" transform="translate(306 725.1) scale(1.47 0.606)">G</text>
<text class="L K" transform="translate(316.7 729.4) scale(0.75 10.91)">I</text>
<text class="L R" transform="translate(327.3 730.5) scale(1.79 0.606)">E</text><text class="L B" transform="translate(327.3 725.1) scale(1.52 0.758)">K</text>
<text class="L K" transform="translate(338 729.4) scale(1.43 10.91)">V</text>
<text class="L G" transform="translate(348.6 730.5) scale(1.69 0.606)">S</text><text class="L B" transform="translate(348.6 726.2) scale(1.52 0.758)">K</text><text class="L R" transform="translate(348.6 719.7) scale(1.75 0.758)">P</text>
<text class="L G" transform="translate(359.2 730.6) scale(1.47 11.25)">G</text>
<text class="L R" transform="translate(369.9 730.5) scale(1.79 0.455)">E</text><text class="L G" transform="translate(369.9 727.3) scale(1.69 0.455)">S</text>
<text class="L G" transform="translate(380.5 729.4) scale(1.69 0.758)">S</text>
<text class="L R" transform="translate(391.2 731.6) scale(1.79 0.758)">E</text><text class="L G" transform="translate(391.2 726.2) scale(1.67 0.758)">T</text><text class="L K" transform="translate(391.2 720.8) scale(1.41 8.335)">A</text>
<text class="L B" transform="translate(401.8 730.5) scale(1.52 0.758)">K</text><text class="L G" transform="translate(401.8 725.1) scale(1.69 0.758)">S</text><text class="L G" transform="translate(401.8 717.5) scale(1.67 0.758)">T</text>
<text class="L P" transform="translate(412.4 728.4) scale(1.72 0.606)">N</text>
<text class="L G" transform="translate(423.1 730.5) scale(1.69 1.061)">S</text><text class="L K" transform="translate(423.1 721.85) scale(1.41 0.606)">A</text><text class="L G" transform="translate(423.1 716.4) scale(1.67 0.606)">T</text>
<text class="L P" transform="translate(433.7 728.4) scale(1.72 0.758)">N</text><text class="L R" transform="translate(433.7 721.85) scale(1.79 0.758)">E</text>
<text class="L P" transform="translate(444.4 729.4) scale(1.72 0.697)">N</text><text class="L K" transform="translate(444.4 724.5) scale(1.41 0.667)">A</text><text class="L R" transform="translate(444.4 719.7) scale(1.79 1.364)">E</text><text class="L R" transform="translate(444.4 709.9) scale(1.64 1.667)">D</text>
<text class="L G" transform="translate(455 731.6) scale(1.67 11.669)">T</text>
<text class="L R" transform="translate(465.6 730.5) scale(1.79 0.606)">E</text><text class="L K" transform="translate(465.6 725.1) scale(1.43 0.606)">V</text><text class="L G" transform="translate(465.6 719.7) scale(1.54 0.606)">C</text>
<text class="L G" transform="translate(476.3 730.6) scale(1.54 10.65)">C</text>
<text class="L R" transform="translate(486.9 731.6) scale(1.64 0.758)">D</text><text class="L R" transform="translate(486.9 725.1) scale(1.79 0.909)">E</text><text class="L K" transform="translate(486.9 717.5) scale(1.41 0.758)">A</text><text class="L G" transform="translate(486.9 711.65) scale(1.47 1.91)">G</text>
<text class="L R" transform="translate(497.6 731.6) scale(1.64 0.606)">D</text><text class="L G" transform="translate(497.6 727.3) scale(1.67 1.516)">T</text><text class="L G" transform="translate(497.6 716) scale(1.69 6.7)">S</text>
<text class="L G" transform="translate(508.2 731.6) scale(1.45 1.819)">Y</text><text class="L K" transform="translate(508.2 718.6) scale(1.96 7.881)">F</text>
<text class="L G" transform="translate(518.8 730.5) scale(1.69 0.606)">S</text><text class="L P" transform="translate(518.8 726.2) scale(1.72 0.455)">N</text><text class="L R" transform="translate(518.8 722.9) scale(1.79 0.303)">E</text>
<text class="L G" transform="translate(529.5 730.5) scale(1.47 0.909)">G</text><text class="L P" transform="translate(529.5 724) scale(1.72 0.606)">N</text><text class="L R" transform="translate(529.5 719.7) scale(1.64 1.364)">D</text><text class="L R" transform="translate(529.5 709.9) scale(1.79 1.273)">E</text>
<text class="L R" transform="translate(540.1 730.5) scale(1.79 1.061)">E</text><text class="L P" transform="translate(540.1 722.9) scale(1.72 0.606)">N</text><text class="L B" transform="translate(540.1 718.2) scale(1.56 0.909)">R</text><text class="L B" transform="translate(540.1 711.65) scale(1.52 2.516)">K</text>
<text class="L R" transform="translate(550.8 730.5) scale(1.64 0.455)">D</text><text class="L G" transform="translate(550.8 727.3) scale(1.69 0.606)">S</text><text class="L K" transform="translate(550.8 721.85) scale(1.41 0.606)">A</text><text class="L G" transform="translate(550.8 717.5) scale(1.47 0.606)">G</text>
<text class="L G" transform="translate(561.4 730.5) scale(1.69 0.455)">S</text><text class="L R" transform="translate(561.4 727.3) scale(1.79 0.606)">E</text>
<text class="L P" transform="translate(572 730.5) scale(1.72 0.606)">N</text><text class="L G" transform="translate(572 726.2) scale(1.69 0.606)">S</text><text class="L G" transform="translate(572 720.8) scale(1.47 0.606)">G</text>
<text class="L R" transform="translate(582.7 730.5) scale(1.79 0.909)">E</text><text class="L G" transform="translate(582.7 724) scale(1.69 0.667)">S</text><text class="L G" transform="translate(582.7 718.6) scale(1.47 0.606)">G</text><text class="L P" transform="translate(582.7 711.65) scale(1.72 1)">N</text>
<text class="L B" transform="translate(593.3 730.5) scale(1.52 0.606)">K</text><text class="L K" transform="translate(593.3 725.1) scale(1.45 0.455)">Y</text><text class="L K" transform="translate(593.3 720.8) scale(1.96 0.758)">F</text>
<text class="L G" transform="translate(604 730.5) scale(1.69 1.061)">S</text><text class="L K" transform="translate(604 721.85) scale(1.45 0.606)">Y</text><text class="L G" transform="translate(604 716.6) scale(1.67 0.94)">T</text>
<text class="L R" transform="translate(614.6 731.6) scale(1.79 0.909)">E</text><text class="L G" transform="translate(614.6 724.7) scale(1.69 2.516)">S</text><text class="L P" transform="translate(614.6 706.7) scale(1.72 3.031)">N</text>
<text class="L B" transform="translate(625.2 730.5) scale(1.52 0.758)">K</text><text class="L K" transform="translate(625.2 725.1) scale(1.41 0.758)">A</text><text class="L G" transform="translate(625.2 716.6) scale(1.69 1.091)">S</text>
<text class="L G" transform="translate(635.9 730.5) scale(1.69 0.758)">S</text><text class="L G" transform="translate(635.9 724) scale(1.54 0.606)">C</text>
<text class="L B" transform="translate(689.1 730.5) scale(1.52 0.455)">K</text><text class="L B" transform="translate(689.1 727.3) scale(1.56 0.455)">R</text>
<text class="L B" transform="translate(710.4 731.6) scale(1.52 0.455)">K</text><text class="L G" transform="translate(710.4 728.4) scale(1.69 0.606)">S</text><text class="L R" transform="translate(710.4 722.9) scale(1.79 1.97)">E</text><text class="L P" transform="translate(710.4 708.8) scale(1.72 2.425)">N</text>
<text class="L G" transform="translate(721 728.4) scale(1.69 0.758)">S</text><text class="L K" transform="translate(721 722.9) scale(1.41 0.758)">A</text><text class="L K" transform="translate(721 716.6) scale(1.45 0.697)">M</text>
<text class="L R" transform="translate(731.6 730.5) scale(1.79 0.909)">E</text><text class="L G" transform="translate(731.6 722.9) scale(1.69 1.364)">S</text><text class="L P" transform="translate(731.6 711.65) scale(1.72 1.516)">N</text>
<text class="L K" transform="translate(742.3 732.7) scale(1.92 0.606)">L</text><text class="L K" transform="translate(742.3 728.4) scale(0.8 1.425)">I</text><text class="L G" transform="translate(742.3 718.2) scale(1.45 1.606)">Y</text>
</g>

<g id="logo2">
<rect x="161.7" y="775" width="577.6" height="108" fill="none" stroke="#444" stroke-width="1"/>
<path class="axl" d="M22.7 776.5V863.3M19 863.3H22.7M20.5 841.6H22.7M19 819.9H22.7M20.5 798.2H22.7M19 776.5H22.7"/>
<text class="ax" x="17.5" y="866.4" text-anchor="end">0</text>
<text class="ax" x="17.5" y="823" text-anchor="end">2</text>
<text class="ax" x="17.5" y="779.6" text-anchor="end">4</text>
<text class="ax" transform="translate(10.5 803) rotate(-90)" text-anchor="middle">bits</text>
<text class="ax" x="11" y="877" style="font-weight:bold">N</text>
<text class="ax" x="746" y="877" style="font-weight:bold">C</text>
<text x="732.7" y="785" text-anchor="middle" style="font-family:'Liberation Sans',Arial,sans-serif;font-size:8px;fill:#555">II</text>
<text class="num" transform="rotate(-90)"><tspan x="-866" y="33.1">69</tspan><tspan x="-866" y="43.7">70</tspan><tspan x="-866" y="54.4">71</tspan><tspan x="-866" y="65">72</tspan><tspan x="-866" y="75.6">73</tspan><tspan x="-866" y="86.3">74</tspan><tspan x="-866" y="96.9">75</tspan><tspan x="-866" y="107.5">76</tspan><tspan x="-866" y="118.1">77</tspan><tspan x="-866" y="128.8">78</tspan><tspan x="-866" y="139.4">79</tspan><tspan x="-866" y="150">80</tspan><tspan x="-866" y="160.7">81</tspan><tspan x="-866" y="171.3">82</tspan><tspan x="-866" y="181.9">83</tspan><tspan x="-866" y="192.6">84</tspan><tspan x="-866" y="203.2">85</tspan><tspan x="-866" y="213.8">86</tspan><tspan x="-866" y="224.4">87</tspan><tspan x="-866" y="235.1">88</tspan><tspan x="-866" y="245.7">89</tspan><tspan x="-866" y="256.3">90</tspan><tspan x="-866" y="267">91</tspan><tspan x="-866" y="277.6">92</tspan><tspan x="-866" y="288.2">93</tspan><tspan x="-866" y="298.9">94</tspan><tspan x="-866" y="309.5">95</tspan><tspan x="-866" y="320.1">96</tspan><tspan x="-866" y="330.7">97</tspan><tspan x="-866" y="341.4">98</tspan><tspan x="-866" y="352">99</tspan><tspan x="-866" y="362.6">100</tspan><tspan x="-866" y="373.3">101</tspan><tspan x="-866" y="383.9">102</tspan><tspan x="-866" y="394.5">103</tspan><tspan x="-866" y="405.2">104</tspan><tspan x="-866" y="415.8">105</tspan><tspan x="-866" y="426.4">106</tspan><tspan x="-866" y="437.1">107</tspan><tspan x="-866" y="447.7">108</tspan><tspan x="-866" y="458.3">109</tspan><tspan x="-866" y="468.9">110</tspan><tspan x="-866" y="479.6">111</tspan><tspan x="-866" y="490.2">112</tspan><tspan x="-866" y="500.8">113</tspan><tspan x="-866" y="511.5">114</tspan><tspan x="-866" y="522.1">115</tspan><tspan x="-866" y="532.7">116</tspan><tspan x="-866" y="543.4">117</tspan><tspan x="-866" y="554">118</tspan><tspan x="-866" y="564.6">119</tspan><tspan x="-866" y="575.3">120</tspan><tspan x="-866" y="585.9">121</tspan><tspan x="-866" y="596.5">122</tspan><tspan x="-866" y="607.1">123</tspan><tspan x="-866" y="617.8">124</tspan><tspan x="-866" y="628.4">125</tspan><tspan x="-866" y="639">126</tspan><tspan x="-866" y="649.7">127</tspan><tspan x="-866" y="660.3">128</tspan><tspan x="-866" y="670.9">129</tspan><tspan x="-866" y="681.6">130</tspan><tspan x="-866" y="692.2">131</tspan><tspan x="-866" y="702.8">132</tspan><tspan x="-866" y="713.5">133</tspan><tspan x="-866" y="724.1">134</tspan><tspan x="-866" y="734.7">135</tspan></text>
<text class="L R" transform="translate(30 862.2) scale(1.79 0.606)">E</text><text class="L G" transform="translate(30 857.9) scale(1.69 0.909)">S</text>
<text class="L B" transform="translate(40.6 863.3) scale(1.52 0.455)">K</text><text class="L R" transform="translate(40.6 860) scale(1.79 0.94)">E</text><text class="L G" transform="translate(40.6 853) scale(1.47 5.05)">G</text>
<text class="L G" transform="translate(51.3 861.1) scale(1.69 0.909)">S</text><text class="L R" transform="translate(51.3 853.5) scale(1.79 0.455)">E</text>
<text class="L G" transform="translate(61.9 861.1) scale(1.69 0.909)">S</text><text class="L K" transform="translate(61.9 853.5) scale(1.92 1.364)">L</text>
<text class="L G" transform="translate(72.5 862.2) scale(1.69 0.455)">S</text><text class="L P" transform="translate(72.5 859) scale(1.41 0.606)">Q</text><text class="L B" transform="translate(72.5 853.5) scale(1.52 2.273)">K</text>
<text class="L P" transform="translate(83.2 859.5) scale(1.41 7.9)">Q</text>
<text class="L K" transform="translate(93.8 860) scale(1.41 0.212)">A</text>
<text class="L K" transform="translate(104.4 862.2) scale(1.45 0.455)">M</text><text class="L K" transform="translate(104.4 859) scale(1.43 1.667)">V</text><text class="L K" transform="translate(104.4 847) scale(1.96 1.819)">F</text>
<text class="L G" transform="translate(115 859) scale(1.67 0.909)">T</text><text class="L G" transform="translate(115 852.5) scale(1.69 2.576)">S</text>
<text class="L B" transform="translate(125.7 861.1) scale(1.52 0.606)">K</text><text class="L K" transform="translate(125.7 856.8) scale(1.41 0.455)">A</text>
<text class="L R" transform="translate(136.3 861.1) scale(1.79 0.455)">E</text>
<text class="L B" transform="translate(178.8 861.1) scale(1.52 0.606)">K</text><text class="L G" transform="translate(178.8 856.8) scale(1.69 0.606)">S</text><text class="L K" transform="translate(178.8 851.4) scale(1.41 0.606)">A</text><text class="L K" transform="translate(178.8 847) scale(1.75 0.909)">P</text>
<text class="L K" transform="translate(189.5 861.1) scale(1.43 1.061)">V</text><text class="L K" transform="translate(189.5 852.5) scale(0.75 3.183)">I</text>
<text class="L G" transform="translate(200.1 861.1) scale(1.69 0.606)">S</text><text class="L B" transform="translate(200.1 856.8) scale(1.52 0.606)">K</text><text class="L K" transform="translate(200.1 851.4) scale(1.43 0.606)">V</text>
<text class="L R" transform="translate(210.7 861.1) scale(1.79 0.909)">E</text><text class="L K" transform="translate(210.7 853.5) scale(1.45 0.606)">M</text>
<text class="L P" transform="translate(221.3 861.1) scale(1.72 0.455)">N</text><text class="L G" transform="translate(221.3 857.9) scale(1.67 0.758)">T</text>
<text class="L B" transform="translate(232 861.1) scale(1.52 0.606)">K</text><text class="L P" transform="translate(232 856.8) scale(1.72 0.606)">N</text><text class="L K" transform="translate(232 851.4) scale(1.96 0.758)">F</text>
<text class="L R" transform="translate(242.6 861.1) scale(1.79 0.606)">E</text><text class="L R" transform="translate(242.6 856.8) scale(1.64 0.758)">D</text><text class="L P" transform="translate(242.6 850.3) scale(1.72 0.606)">N</text><text class="L R" transform="translate(242.6 846) scale(1.79 0.606)">E</text>
<text class="L K" transform="translate(253.2 863.3) scale(1.43 2.425)">V</text><text class="L K" transform="translate(253.2 846) scale(0.75 6.214)">I</text>
<text class="L G" transform="translate(263.9 861.1) scale(1.69 1.212)">S</text><text class="L B" transform="translate(263.9 851.4) scale(1.72 0.606)">H</text>
<text class="L G" transform="translate(274.5 862.2) scale(1.54 11.55)">C</text>
<text class="L B" transform="translate(285.1 861.1) scale(1.52 1.212)">K</text><text class="L B" transform="translate(285.1 851.4) scale(1.56 0.758)">R</text><text class="L R" transform="translate(285.1 846) scale(1.79 2.122)">E</text>
<text class="L K" transform="translate(295.8 863.3) scale(1.41 11.669)">A</text>
<text class="L G" transform="translate(306.4 861.1) scale(1.69 1.364)">S</text><text class="L K" transform="translate(306.4 850.3) scale(1.43 0.758)">V</text>
<text class="L R" transform="translate(317 861.1) scale(1.79 1.061)">E</text><text class="L B" transform="translate(317 852.5) scale(1.52 1.819)">K</text><text class="L P" transform="translate(317 839.4) scale(1.72 2.728)">N</text>
<text class="L G" transform="translate(327.6 862.2) scale(1.54 11.55)">C</text>
<text class="L G" transform="translate(338.3 861.1) scale(1.69 1.516)">S</text><text class="L K" transform="translate(338.3 849.2) scale(1.45 1.061)">Y</text><text class="L B" transform="translate(338.3 841.6) scale(1.52 1.667)">K</text>
<text class="L B" transform="translate(348.9 861.1) scale(1.72 1.212)">H</text><text class="L K" transform="translate(348.9 852.5) scale(1.96 1.819)">F</text><text class="L G" transform="translate(348.9 839.4) scale(1.45 3.637)">Y</text>
<text class="L P" transform="translate(359.5 862.2) scale(1.72 11.518)">N</text>
<text class="L G" transform="translate(370.2 861.1) scale(1.69 1.061)">S</text><text class="L B" transform="translate(370.2 852.5) scale(1.52 0.758)">K</text><text class="L R" transform="translate(370.2 846) scale(1.64 0.909)">D</text>
<text class="L G" transform="translate(380.8 861.1) scale(1.69 0.909)">S</text><text class="L R" transform="translate(380.8 854.6) scale(1.79 1.061)">E</text><text class="L P" transform="translate(380.8 846) scale(1.72 1.516)">N</text>
<text class="L G" transform="translate(391.4 861.1) scale(1.69 0.606)">S</text><text class="L B" transform="translate(391.4 856.8) scale(1.52 0.909)">K</text>
<text class="L G" transform="translate(402.1 861.1) scale(1.69 0.758)">S</text><text class="L B" transform="translate(402.1 854.6) scale(1.52 0.455)">K</text>
<text class="L G" transform="translate(412.7 862.2) scale(1.54 11.55)">C</text>
<text class="L G" transform="translate(423.3 861.1) scale(1.69 0.545)">S</text><text class="L B" transform="translate(423.3 856.8) scale(1.72 0.364)">H</text>
<text class="L G" transform="translate(434 862.2) scale(1.69 1.061)">S</text><text class="L K" transform="translate(434 854.6) scale(1.41 9.093)">A</text>
<text class="L P" transform="translate(444.6 861.1) scale(1.72 1.364)">N</text><text class="L R" transform="translate(444.6 850.3) scale(1.64 1.364)">D</text><text class="L R" transform="translate(444.6 840.5) scale(1.79 1.212)">E</text>
<text class="L P" transform="translate(455.2 861.1) scale(1.72 1.061)">N</text><text class="L G" transform="translate(455.2 852.5) scale(1.69 1.516)">S</text><text class="L B" transform="translate(455.2 840.5) scale(1.72 1.364)">H</text>
<text class="L K" transform="translate(465.8 862.2) scale(0.75 1.061)">I</text><text class="L K" transform="translate(465.8 854.6) scale(1.43 7.274)">V</text>
<text class="L R" transform="translate(476.5 861.1) scale(1.79 0.909)">E</text>
<text class="L K" transform="translate(487.1 862.2) scale(1.43 1.061)">V</text><text class="L K" transform="translate(487.1 854.6) scale(0.75 8.487)">I</text>
<text class="L G" transform="translate(497.7 861.1) scale(1.69 0.909)">S</text><text class="L R" transform="translate(497.7 854.6) scale(1.79 1.061)">E</text><text class="L P" transform="translate(497.7 846) scale(1.72 0.606)">N</text>
<text class="L B" transform="translate(508.4 861.1) scale(1.52 1.061)">K</text><text class="L P" transform="translate(508.4 852.5) scale(1.72 0.606)">N</text><text class="L G" transform="translate(508.4 848.1) scale(1.47 1.819)">G</text>
<text class="L R" transform="translate(519 859) scale(1.79 0.758)">E</text>
<text class="L G" transform="translate(529.6 861.1) scale(1.69 1.061)">S</text><text class="L P" transform="translate(529.6 852.5) scale(1.72 0.606)">N</text><text class="L R" transform="translate(529.6 848.1) scale(1.64 0.909)">D</text>
<text class="L P" transform="translate(540.3 861.1) scale(1.72 0.758)">N</text><text class="L G" transform="translate(540.3 854.6) scale(1.67 0.909)">T</text><text class="L K" transform="translate(540.3 848.1) scale(1.41 4.547)">A</text>
<text class="L G" transform="translate(582.8 859) scale(1.69 0.606)">S</text>
<text class="L R" transform="translate(593.4 861.1) scale(1.79 0.909)">E</text><text class="L K" transform="translate(593.4 853.5) scale(1.41 0.303)">A</text>
<text class="L B" transform="translate(604 860) scale(1.52 0.606)">K</text>
<text class="L G" transform="translate(614.7 859) scale(1.69 0.455)">S</text><text class="L R" transform="translate(614.7 855.7) scale(1.79 0.606)">E</text>
<text class="L K" transform="translate(625.3 863.3) scale(1.41 0.606)">A</text><text class="L G" transform="translate(625.3 859) scale(1.67 9.699)">T</text>
<text class="L P" transform="translate(635.9 861.1) scale(1.72 1.212)">N</text><text class="L B" transform="translate(635.9 851.4) scale(1.52 0.758)">K</text><text class="L G" transform="translate(635.9 846) scale(1.69 0.758)">S</text><text class="L R" transform="translate(635.9 839.4) scale(1.79 1.667)">E</text>
<text class="L G" transform="translate(646.6 862.2) scale(1.54 11.55)">C</text>
<text class="L P" transform="translate(657.2 861.1) scale(1.72 1.061)">N</text><text class="L G" transform="translate(657.2 853.5) scale(1.69 0.909)">S</text><text class="L K" transform="translate(657.2 846) scale(1.41 0.606)">A</text><text class="L R" transform="translate(657.2 840.5) scale(1.79 1.212)">E</text>
<text class="L G" transform="translate(667.8 863) scale(1.69 1.45)">S</text><text class="L G" transform="translate(667.8 852.5) scale(1.67 7.274)">T</text>
<text class="L K" transform="translate(678.5 862.2) scale(1.96 11.518)">F</text>
<text class="L R" transform="translate(689.1 860) scale(1.79 0.606)">E</text><text class="L B" transform="translate(689.1 855.7) scale(1.52 0.758)">K</text>
<text class="L K" transform="translate(699.7 861.1) scale(1.41 0.606)">A</text><text class="L R" transform="translate(699.7 856.8) scale(1.79 1.212)">E</text>
<text class="L R" transform="translate(710.4 861.1) scale(1.79 1.212)">E</text><text class="L B" transform="translate(710.4 851.4) scale(1.56 0.758)">R</text><text class="L B" transform="translate(710.4 846) scale(1.52 1.819)">K</text>
<text class="L K" transform="translate(721 861.1) scale(1.67 0.606)">T</text>
</g>
</svg>
